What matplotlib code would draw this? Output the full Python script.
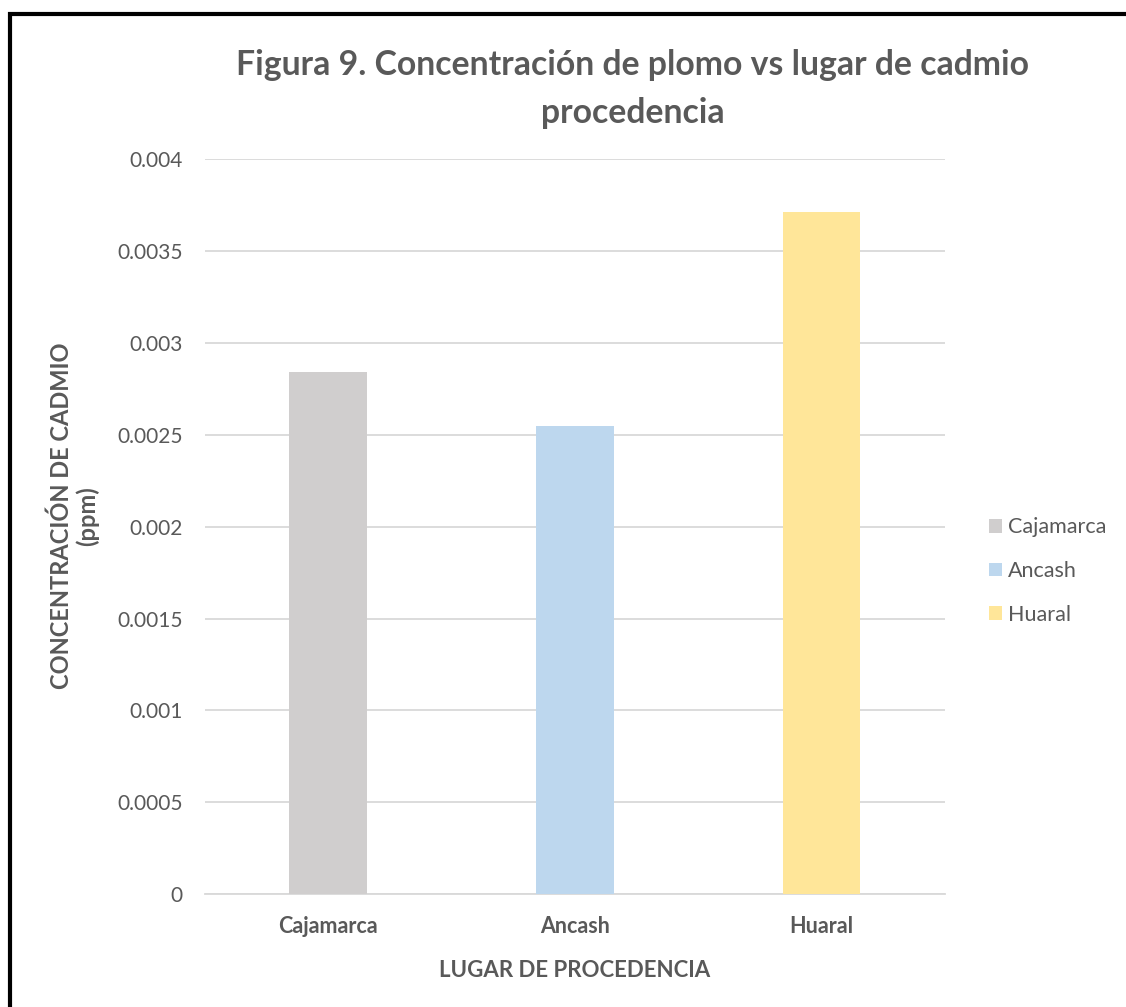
import matplotlib

matplotlib.use("Agg")
import matplotlib.pyplot as plt
from matplotlib.patches import Patch, Rectangle

plt.rcParams["font.family"] = ["Lato", "DejaVu Sans"]

places = ["Cajamarca", "Ancash", "Huaral"]
cadmium_ppm = [0.00284, 0.00255, 0.00371]
bar_colors = ["#d0cece", "#bdd7ee", "#ffe699"]
yticks = [0, 0.0005, 0.001, 0.0015, 0.002, 0.0025, 0.003, 0.0035, 0.004]
ytick_labels = ["0", "0.0005", "0.001", "0.0015", "0.002", "0.0025", "0.003", "0.0035", "0.004"]

TEXT = "#595959"
GRID = "#d9d9d9"

fig = plt.figure(figsize=(11.26, 10.07), dpi=100)
ax = fig.add_axes([0.182, 0.112, 0.657, 0.730])

x = range(len(places))
ax.bar(x, cadmium_ppm, width=0.315, color=bar_colors, zorder=3)

ax.set_xlim(-0.5, 2.5)
ax.set_ylim(0, 0.004)
ax.set_yticks(yticks)
ax.set_yticklabels(ytick_labels, fontsize=15, color=TEXT)
ax.set_xticks(list(x))
ax.set_xticklabels(places, fontsize=15.5, fontweight="bold", color=TEXT)
ax.tick_params(axis="both", length=0)
ax.tick_params(axis="y", pad=16)
ax.tick_params(axis="x", pad=16)
ax.grid(True, axis="y", color=GRID, lw=1.3, zorder=0)
for side in ("top", "right", "left"):
    ax.spines[side].set_visible(False)
ax.spines["bottom"].set_color(GRID)
ax.spines["bottom"].set_linewidth(1.3)

ax.set_xlabel("LUGAR DE PROCEDENCIA", fontsize=16, fontweight="bold", color=TEXT, labelpad=16)
ax.set_ylabel("CONCENTRACIÓN DE CADMIO\n(ppm)", fontsize=17, fontweight="bold", color=TEXT,
              linespacing=1.15)
ax.yaxis.set_label_coords(-0.143, 0.515)

fig.text(0.562, 0.951, "Figura 9. Concentración de plomo vs lugar de cadmio\nprocedencia",
         ha="center", va="top", fontsize=24.3, fontweight="bold", color=TEXT, linespacing=1.6)

handles = [Patch(facecolor=c, label=p) for p, c in zip(places, bar_colors)]
fig.legend(handles=handles, loc="center left", bbox_to_anchor=(0.861, 0.433), frameon=False,
           fontsize=15.5, labelcolor=TEXT, handlelength=0.6, handleheight=0.6,
           handletextpad=0.3, labelspacing=1.1)

# outer frame
fig.patches.append(Rectangle((10 / 1126, -0.02), 1.05, 1 - 14 / 1007 + 0.02,
                             transform=fig.transFigure, fill=False, edgecolor="black", lw=3))

fig.savefig("out.png", dpi=100)
